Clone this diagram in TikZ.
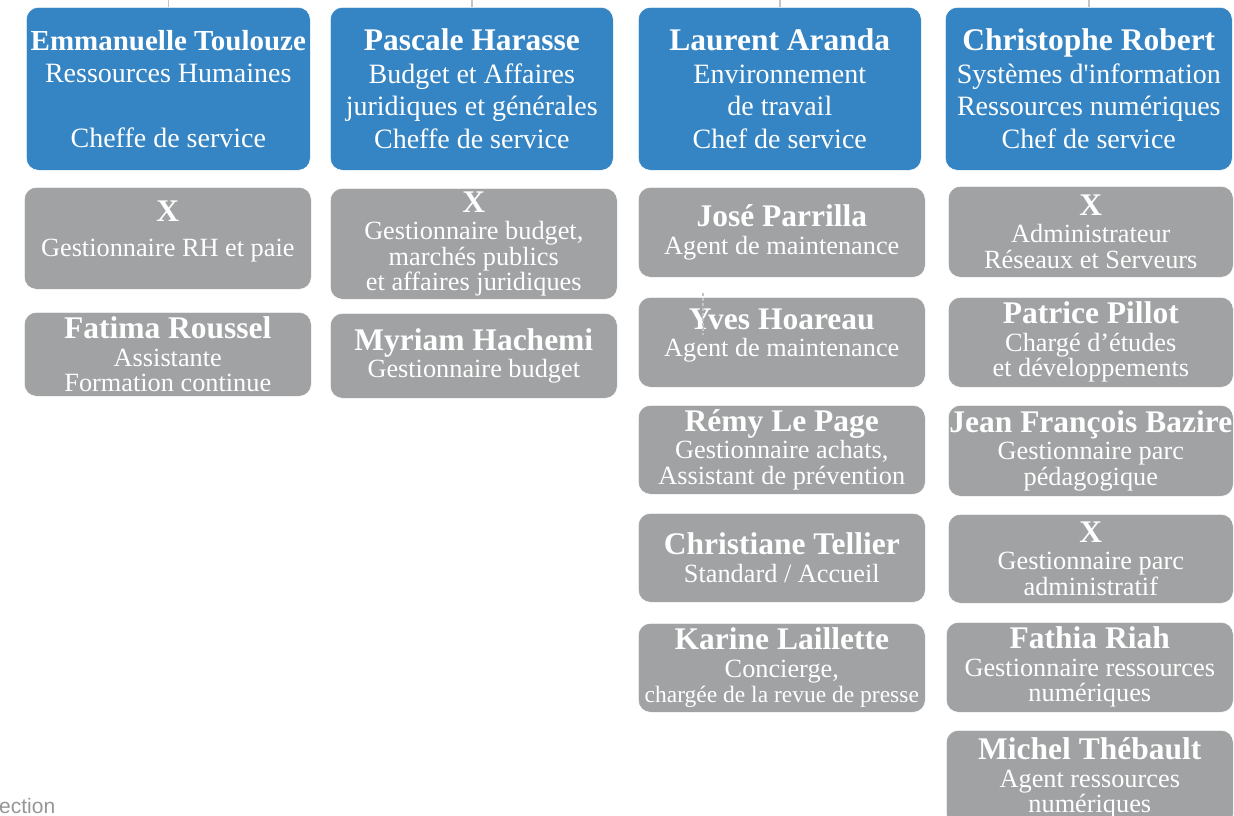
\documentclass[tikz,border=0pt]{standalone}
\usepackage{fontspec}
\setmainfont{Liberation Serif}
\newfontfamily\footsans{Liberation Sans}
\definecolor{chefblue}{RGB}{53,132,196}
\definecolor{agentgrey}{RGB}{160,162,163}
\definecolor{stubgrey}{RGB}{196,196,196}
\definecolor{footgrey}{RGB}{150,150,150}
\newcommand{\hname}[1]{{\fontsize{31.5}{32}\selectfont\bfseries #1}}
\newcommand{\aname}[1]{{\fontsize{31.5}{30}\selectfont\bfseries #1}}
\newcommand{\liftup}{\\[-6pt]\mbox{}}
\begin{document}
\begin{tikzpicture}[x=1pt, y=-1pt,
    chef/.style={draw=white, line width=0.6pt, fill=chefblue, rounded corners=12pt,
      text=white, anchor=north west, inner sep=0pt, align=center,
      minimum width=284pt, minimum height=163pt,
      font=\fontsize{28}{32.5}\selectfont},
    agent/.style={draw=white, line width=0.6pt, fill=agentgrey, rounded corners=12pt,
      text=white, anchor=north west, inner sep=0pt, align=center,
      minimum width=287pt, font=\fontsize{26.3}{25.5}\selectfont},
    stub/.style={stubgrey, line width=1.4pt},
    trace/.style={stubgrey, line width=1.2pt, dash pattern=on 3pt off 2pt}]
  \clip (0,0) rectangle (1234,816);
  % Heads of service
  \node[chef] (h1) at (26,7) {{\fontsize{29}{32}\selectfont\bfseries Emmanuelle Toulouze}\\Ressources Humaines\\[32pt]Cheffe de service};
  \node[chef, minimum width=283pt] (h2) at (330,7) {\hname{Pascale Harasse}\\Budget et Affaires\\juridiques et générales\\Cheffe de service};
  \node[chef, minimum width=283pt] (h3) at (638,7) {\hname{Laurent Aranda}\\Environnement\\de travail\\Chef de service};
  \node[chef, minimum width=287pt] (h4) at (945,7) {\hname{Christophe Robert}\\Systèmes d\textquotesingle information\\Ressources numériques\\Chef de service};
  % Links coming from above
  \coordinate (top) at (0,0);
  \foreach \h in {h1,h2,h3,h4}
    \draw[stub] (\h.north) -- (\h.north |- top);
  % Ressources Humaines
  \node[agent, minimum height=102pt] (a1) at (24,187) {\aname{X}\\[9pt]Gestionnaire RH et paie\liftup};
  \node[agent, minimum height=84pt] (a2) at (24,312) {\aname{Fatima Roussel}\\[2pt]Assistante\\Formation continue};
  % Budget et Affaires
  \node[agent, minimum height=111pt] (b1) at (330,188) {\aname{X}\\[2pt]Gestionnaire budget,\\marchés publics\\et affaires juridiques};
  \node[agent, minimum height=85pt] (b2) at (330,313) {\aname{Myriam Hachemi}\\[2pt]Gestionnaire budget};
  % Environnement de travail
  \node[agent, minimum height=90pt] (c1) at (638,187) {\aname{José Parrilla}\\[2pt]Agent de maintenance};
  \node[agent, minimum height=90pt] (c2) at (638,297) {\aname{Yves Hoareau}\\[2pt]Agent de maintenance\liftup};
  \node[agent, minimum height=89pt] (c3) at (638,405) {\aname{Rémy Le Page}\\[2pt]Gestionnaire achats,\\Assistant de prévention};
  \node[agent, minimum height=89pt] (c4) at (638,513) {\aname{Christiane Tellier}\\[2pt]Standard / Accueil};
  \node[agent, minimum height=89pt] (c5) at (638,623) {\aname{Karine Laillette}\\[2pt]Concierge,\\{\fontsize{23.5}{25}\selectfont chargée de la revue de presse}};
  % Systemes d'information
  \node[agent, minimum width=285pt, minimum height=91pt] (d1) at (948,186) {\aname{X}\\[2pt]Administrateur\\Réseaux et Serveurs};
  \node[agent, minimum width=285pt, minimum height=90pt] (d2) at (948,297) {\aname{Patrice Pillot}\\[2pt]Chargé d’études\\et développements};
  \node[agent, minimum width=285pt, minimum height=91pt] (d3) at (948,405) {\aname{Jean François Bazire}\\[2pt]Gestionnaire parc\\pédagogique};
  \node[agent, minimum width=285pt, minimum height=89pt] (d4) at (948,514) {\aname{X}\\[2pt]Gestionnaire parc\\administratif};
  \node[agent, minimum width=287pt, minimum height=90pt] (d5) at (946,622) {\aname{Fathia Riah}\\[2pt]Gestionnaire ressources\\numériques};
  \node[agent, minimum width=287pt, minimum height=96pt] (d6) at (946,730) {\aname{Michel Thébault}\\[2pt]Agent ressources\\numériques};
  % Trace across Yves Hoareau
  \coordinate (y1) at (703,293);
  \coordinate (y2) at (703,335);
  \draw[trace] (y1) -- (y2);
  % Footer
  \node[anchor=base west, inner sep=0pt, text=footgrey, font=\footsans\fontsize{21}{21}\selectfont] (foot) at (-1,813) {ection};
\end{tikzpicture}
\end{document}
